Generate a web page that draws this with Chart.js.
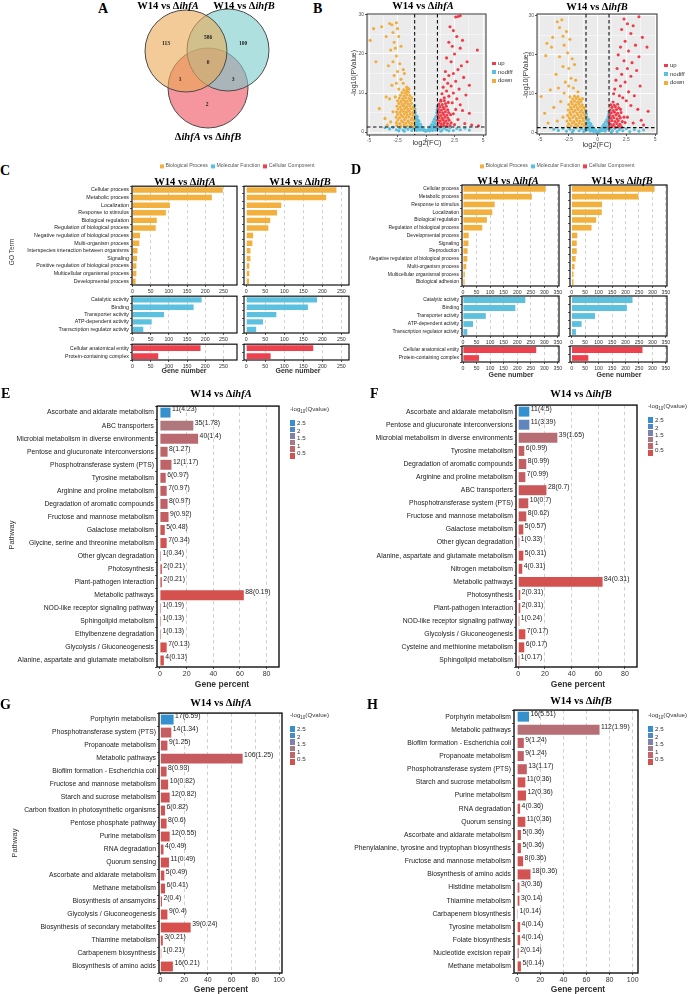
<!DOCTYPE html>
<html>
<head>
<meta charset="utf-8">
<script src="https://cdn.jsdelivr.net/npm/chart.js@4.4.1/dist/chart.umd.min.js"></script>
<style>
body { margin: 0; background: #fff; }
#fig { position: relative; width: 693px; height: 994px; overflow: hidden; font-family: 'Liberation Sans', Arial, sans-serif; color: #222; }
#fig canvas { position: absolute; }
.t { position: absolute; white-space: nowrap; line-height: 1; }
.letter { font: bold 14px 'Liberation Serif', serif; color: #000; }
.ttl { font: bold 10.5px 'Liberation Serif', serif; color: #000; }
.sq { display: inline-block; vertical-align: middle; }
</style>
</head>
<body>
<div id="fig"></div>
<script>
// ---------- DATA ----------

// Venn (A only, A&B, B only, all three, A&C, B&C, C only)
const vennCounts = [113, 586, 100, 0, 1, 3, 2];

// Volcano: W14 vs ihfA  [log2FC, -log10 P]
const volA_up = [[2.6,29.5],[3.0,29.8],[2.8,29.6],[2.1,27],[2.4,26],[2.7,24.5],[3.2,23.5],[2.0,23],[4.5,21],[2.3,22],[3.0,21.5],[2.5,20],[1.8,19],[2.2,18],[3.6,18],[3.1,17],[2.8,16],[1.7,15.5],[2.4,15],[2.0,14.5],[3.3,14],[1.6,13.5],[2.6,13],[1.9,12.5],[3.8,12],[2.2,11.8],[1.5,11.5],[2.9,11],[1.8,10.5],[2.4,10],[3.5,9.5],[1.4,9.8],[2.0,9.2],[1.6,8.8],[2.7,8.5],[1.3,8.2],[2.3,7.5],[3.0,7],[2.6,5.8],[2.4,4.7],[2.8,3.2],[2.5,1.9],[3.4,2.2],[4.0,1.8],[4.6,1.6],[3.8,4.8],[3.2,5.5],
  [1.05,1.6],[1.3,1.45],[1.55,1.7],[1.8,1.5],[2.1,1.65],[1.1,2.3],[1.35,2.1],[1.6,2.4],[1.88,2.2],[2.2,2.35],[1.02,3.0],[1.25,2.85],[1.5,3.1],[1.75,2.9],[2.02,3.05],[1.12,3.7],[1.4,3.55],[1.65,3.8],[1.92,3.6],[1.05,4.4],[1.3,4.25],[1.55,4.5],[1.82,4.3],[2.15,4.45],[1.18,5.1],[1.45,4.95],[1.7,5.2],[1.98,5.0],[1.08,5.8],[1.35,5.65],[1.6,5.9],[1.9,5.7],[1.22,6.5],[1.5,6.35],[1.78,6.6],[1.12,7.2],[1.42,7.05],[1.7,7.3],[1.3,7.9],[1.6,8.1],[1.95,7.6]];
const volA_down = [[-4.9,23.5],[-4.6,26.5],[-3.9,27],[-3.5,24.5],[-3.2,27.8],[-3.0,27.5],[-2.9,25.5],[-2.6,28],[-2.5,26.5],[-2.8,23],[-2.4,24.5],[-3.1,21],[-2.7,21.5],[-2.2,22],[-2.6,19.5],[-2.9,18],[-3.3,17],[-4.4,18],[-2.3,17.5],[-2.0,16],[-2.5,15.5],[-2.8,14.5],[-1.9,15],[-2.2,13.5],[-3.5,9],[-4.1,6],[-3.0,12],[-2.6,12.5],[-2.0,12.5],[-1.7,11.5],[-2.4,11],[-1.5,11],[-3.4,1.8],[-3.1,2.6],[-3.6,3.5],[-2.9,5.2],[-3.2,8.5],[-2.7,9.0],
  [-2.55,1.7],[-2.22,1.5],[-1.93,1.8],[-1.64,1.55],[-1.36,1.75],[-1.08,1.5],[-2.6,2.4],[-2.3,2.2],[-2.02,2.5],[-1.75,2.3],[-1.47,2.45],[-1.2,2.25],[-2.48,3.1],[-2.15,2.95],[-1.88,3.2],[-1.58,2.9],[-1.3,3.15],[-1.04,3.0],[-2.62,3.8],[-2.33,3.65],[-2.05,3.9],[-1.77,3.7],[-1.5,3.85],[-1.22,3.6],[-2.5,4.5],[-2.2,4.35],[-1.92,4.6],[-1.65,4.4],[-1.38,4.55],[-1.1,4.3],[-2.58,5.2],[-2.28,5.05],[-2.0,5.3],[-1.72,5.1],[-1.45,5.25],[-1.17,5.0],[-2.45,5.9],[-2.17,5.75],[-1.87,6.0],[-1.6,5.8],[-1.32,5.95],[-1.05,5.7],[-2.55,6.6],[-2.25,6.45],[-1.97,6.7],[-1.7,6.5],[-1.42,6.65],[-1.15,6.4],[-2.4,7.3],[-2.1,7.15],[-1.83,7.4],[-1.55,7.2],[-1.28,7.35],[-2.5,8.0],[-2.2,7.85],[-1.92,8.1],[-1.65,7.9],[-1.37,8.05],[-2.35,8.7],[-2.05,8.55],[-1.78,8.8],[-1.5,8.6],[-1.25,8.75],[-2.25,9.4],[-1.95,9.3],[-1.68,9.5],[-1.42,9.35],[-2.1,10.1],[-1.82,10.0],[-1.56,10.2],[-1.95,10.8],[-1.7,10.6],[-1.6,11.2]];
const volA_nodiff = [[-1.0,6.8],[-0.97,5.9],[-0.95,5.0],[-0.92,4.2],[-0.9,3.4],[-0.88,2.6],[-0.85,1.8],[-0.83,1.0],[-0.8,0.4],[-0.78,4.0],[-0.75,3.2],[-0.72,2.4],[-0.7,1.5],[-0.68,0.7],[-0.62,2.8],[-0.6,2.0],[-0.57,1.2],[-0.55,0.5],[-0.48,2.0],[-0.45,1.3],[-0.42,0.6],[-0.35,1.3],[-0.3,0.7],[-0.25,0.9],[-0.2,0.4],[-0.12,0.5],[-0.05,0.2],[0.05,0.3],[0.12,0.4],[0.2,0.6],[0.28,0.9],[0.33,0.3],[0.4,1.4],[0.45,0.7],[0.5,1.9],[0.55,1.1],[0.58,0.4],[0.62,2.6],[0.65,1.7],[0.7,0.9],[0.74,3.3],[0.77,2.3],[0.8,1.3],[0.82,0.5],[0.86,4.0],[0.88,3.0],[0.9,2.0],[0.93,5.0],[0.95,1.0],[0.97,5.8],[0.99,4.3],[1.0,6.6],
  [-3.6,1.1],[-3.2,0.8],[-2.9,1.2],[-2.6,0.6],[-2.3,1.0],[-2.0,0.5],[-1.8,1.1],[-1.6,0.7],[-1.4,1.2],[-1.25,0.4],[-1.15,0.9],[-2.4,0.3],[-1.9,0.2],[1.1,0.8],[1.25,1.2],[1.4,0.5],[1.6,1.0],[1.8,0.6],[2.1,1.1],[2.4,0.4],[2.7,0.9],[3.0,0.6],[3.4,1.0],[3.8,0.5],[1.3,0.2],[2.0,0.3],[-1.05,1.2],[1.05,1.2]];

// Volcano: W14 vs ihfB
const volB_up = [[2.3,29.2],[3.6,29.8],[2.6,28],[3.1,27.5],[2.9,25.5],[2.1,26.5],[3.9,24.5],[2.4,23.5],[3.3,22.5],[2.0,22],[4.3,22],[2.7,21],[3.6,19.5],[1.8,20],[2.3,18.5],[3.0,18],[2.6,16.5],[3.4,16],[1.7,16.5],[2.1,15],[2.9,14.5],[1.6,13.5],[2.4,13],[3.7,12],[2.0,12],[1.5,11.2],[2.7,10.5],[3.2,9.5],[1.4,10],[2.2,9],[4.4,5.5],[3.8,3.2],[2.9,7],[3.5,6],[2.6,4],[4.0,2.0],[3.1,2.5],[2.5,8.2],[1.9,9.5],
  [1.02,1.5],[1.28,1.7],[1.55,1.45],[1.82,1.65],[2.1,1.5],[1.12,2.25],[1.4,2.1],[1.68,2.35],[1.95,2.15],[1.0,2.95],[1.25,3.1],[1.52,2.9],[1.8,3.05],[2.15,2.85],[1.15,3.7],[1.42,3.85],[1.7,3.6],[1.98,3.8],[1.05,4.45],[1.32,4.3],[1.6,4.55],[1.88,4.35],[1.2,5.1],[1.48,5.25],[1.75,5.0],[2.05,5.2],[1.1,5.85],[1.38,5.7],[1.65,5.95],[1.25,6.5],[1.55,6.65],[1.85,6.4],[1.15,7.2],[1.45,7.05],[1.75,7.3],[1.35,7.9],[2.0,6.0],[2.3,4.0],[2.4,2.6]];
const volB_down = [[-4.9,9.3],[-4.5,19.8],[-4.4,23],[-4.0,22],[-3.9,24.5],[-3.5,28.5],[-3.3,27],[-3.1,29],[-3.0,24.8],[-2.7,26],[-2.9,22.5],[-2.4,24],[-2.6,20.5],[-3.3,19.5],[-2.2,19],[-3.0,17],[-2.5,16.5],[-2.0,17.5],[-3.6,15],[-2.3,14],[-2.8,13],[-1.9,13.5],[-4.1,11],[-3.4,11.5],[-2.5,12],[-2.1,11.5],[-1.7,10.5],[-4.6,5],[-3.8,6.5],[-3.2,8],[-3.0,4],[-4.3,2.5],[-2.9,10.2],[-3.5,3.0],
  [-2.6,1.6],[-2.3,1.8],[-2.0,1.5],[-1.72,1.75],[-1.45,1.55],[-1.15,1.7],[-2.5,2.3],[-2.18,2.5],[-1.9,2.2],[-1.6,2.45],[-1.32,2.25],[-1.05,2.4],[-2.65,3.0],[-2.35,3.2],[-2.05,2.9],[-1.78,3.15],[-1.5,2.95],[-1.22,3.1],[-2.45,3.75],[-2.15,3.9],[-1.85,3.65],[-1.58,3.85],[-1.3,3.7],[-1.03,3.8],[-2.6,4.45],[-2.3,4.6],[-2.0,4.35],[-1.7,4.55],[-1.42,4.4],[-1.12,4.5],[-2.4,5.15],[-2.1,5.3],[-1.8,5.05],[-1.52,5.25],[-1.25,5.1],[-2.55,5.85],[-2.25,6.0],[-1.95,5.75],[-1.67,5.95],[-1.38,5.8],[-1.08,5.9],[-2.35,6.55],[-2.05,6.7],[-1.77,6.45],[-1.48,6.65],[-1.2,6.5],[-2.5,7.25],[-2.2,7.4],[-1.9,7.15],[-1.62,7.35],[-1.33,7.2],[-2.3,7.95],[-2.0,8.1],[-1.72,7.85],[-1.45,8.05],[-2.15,8.65],[-1.85,8.8],[-1.57,8.6],[-1.3,8.75],[-2.0,9.4],[-1.7,9.3],[-2.4,9.2]];
const volB_nodiff = [[-1.0,5.6],[-0.97,4.8],[-0.94,4.0],[-0.91,3.2],[-0.88,2.4],[-0.85,1.6],[-0.82,0.8],[-0.78,3.4],[-0.74,2.6],[-0.7,1.8],[-0.66,1.0],[-0.62,0.4],[-0.58,2.3],[-0.54,1.5],[-0.5,0.7],[-0.45,1.6],[-0.4,0.9],[-0.35,0.3],[-0.3,1.0],[-0.24,0.5],[-0.18,0.7],[-0.1,0.3],[-0.03,0.1],[0.04,0.2],[0.1,0.5],[0.17,0.3],[0.23,0.8],[0.3,0.5],[0.36,1.2],[0.42,0.6],[0.47,1.7],[0.52,0.9],[0.57,2.2],[0.62,1.3],[0.66,0.4],[0.7,2.8],[0.74,1.8],[0.78,0.9],[0.82,3.4],[0.85,2.5],[0.88,1.4],[0.91,4.1],[0.94,3.1],[0.97,4.8],[0.99,2.0],[1.0,5.5],
  [-3.8,0.9],[-3.4,0.6],[-3.0,1.1],[-2.7,0.4],[-2.4,0.9],[-2.1,0.6],[-1.85,1.2],[-1.6,0.5],[-1.4,1.0],[-1.2,0.3],[-1.1,0.8],[-2.2,0.2],[1.1,1.0],[1.3,0.5],[1.5,1.1],[1.7,0.3],[1.9,0.8],[2.2,0.5],[2.5,1.0],[2.8,0.3],[3.2,0.8],[3.6,0.4],[4.0,0.7],[1.2,0.1],[2.0,1.2],[-1.05,1.2],[1.05,1.2]];

// GO enrichment (gene numbers)
const bpTermsC = ['Cellular process','Metabolic process','Localization','Response to stimulus','Biological regulation','Regulation of biological process','Negative regulation of biological process','Multi-organism process','Interspecies interaction between organisms','Signaling','Positive regulation of biological process','Multicellular organismal process','Developmental process'];
const bpC_A = [248, 218, 103, 92, 67, 64, 21, 19, 14, 13, 11, 11, 9];
const bpC_B = [237, 210, 92, 81, 63, 58, 18, 16, 11, 11, 8, 8, 7];
const mfTerms = ['Catalytic activity','Binding','Transporter activity','ATP-dependent activity','Transcription regulator activity'];
const mfC_A = [190, 168, 87, 53, 30];
const mfC_B = [186, 162, 79, 44, 26];
const ccTerms = ['Cellular anatomical entity','Protein-containing complex'];
const ccC_A = [187, 71];
const ccC_B = [176, 64];

const bpTermsD = ['Cellular process','Metabolic process','Response to stimulus','Localization','Biological regulation','Regulation of biological process','Developmental process','Signaling','Reproduction','Negative regulation of biological process','Multi-organism process','Multicellular organismal process','Biological adhesion'];
const bpD_A = [305, 254, 117, 108, 88, 71, 21, 20, 17, 16, 12, 7, 6];
const bpD_B = [308, 248, 113, 112, 91, 74, 21, 19, 19, 15, 11, 7, 7];
const mfD_A = [230, 193, 84, 37, 16];
const mfD_B = [226, 205, 87, 37, 16];
const ccD_A = [270, 59];
const ccD_B = [263, 62];

// KEGG pathways: count, -log10(Q), gene percent
const pathE = ['Ascorbate and aldarate metabolism','ABC transporters','Microbial metabolism in diverse environments','Pentose and glucuronate interconversions','Phosphotransferase system (PTS)','Tyrosine metabolism','Arginine and proline metabolism','Degradation of aromatic compounds','Fructose and mannose metabolism','Galactose metabolism','Glycine, serine and threonine metabolism','Other glycan degradation','Photosynthesis','Plant-pathogen interaction','Metabolic pathways','NOD-like receptor signaling pathway','Sphingolipid metabolism','Ethylbenzene degradation','Glycolysis / Gluconeogenesis','Alanine, aspartate and glutamate metabolism'];
const countE = [11, 35, 40, 8, 12, 6, 7, 8, 9, 5, 7, 1, 2, 2, 88, 1, 1, 1, 7, 4];
const qE = [4.23, 1.78, 1.4, 1.27, 1.17, 0.97, 0.97, 0.97, 0.92, 0.48, 0.34, 0.34, 0.21, 0.21, 0.19, 0.19, 0.13, 0.13, 0.13, 0.13];
const pctE = [7.9, 25.0, 28.6, 5.7, 8.6, 4.3, 5.0, 5.7, 6.4, 3.6, 5.0, 0.7, 1.4, 1.4, 62.9, 0.7, 0.7, 0.7, 5.0, 2.9];

const pathF = ['Ascorbate and aldarate metabolism','Pentose and glucuronate interconversions','Microbial metabolism in diverse environments','Tyrosine metabolism','Degradation of aromatic compounds','Arginine and proline metabolism','ABC transporters','Phosphotransferase system (PTS)','Fructose and mannose metabolism','Galactose metabolism','Other glycan degradation','Alanine, aspartate and glutamate metabolism','Nitrogen metabolism','Metabolic pathways','Photosynthesis','Plant-pathogen interaction','NOD-like receptor signaling pathway','Glycolysis / Gluconeogenesis','Cysteine and methionine metabolism','Sphingolipid metabolism'];
const countF = [11, 11, 39, 6, 8, 7, 28, 10, 8, 5, 1, 5, 4, 84, 2, 2, 1, 7, 6, 1];
const qF = [4.5, 3.39, 1.65, 0.99, 0.99, 0.99, 0.7, 0.7, 0.62, 0.57, 0.33, 0.31, 0.31, 0.31, 0.31, 0.31, 0.24, 0.17, 0.17, 0.17];
const pctF = [8.3, 8.3, 29.3, 4.5, 6.0, 5.3, 21.1, 7.5, 6.0, 3.8, 0.8, 3.8, 3.0, 63.2, 1.5, 1.5, 0.8, 5.3, 4.5, 0.8];

const pathG = ['Porphyrin metabolism','Phosphotransferase system (PTS)','Propanoate metabolism','Metabolic pathways','Biofilm formation - Escherichia coli','Fructose and mannose metabolism','Starch and sucrose metabolism','Carbon fixation in photosynthetic organisms','Pentose phosphate pathway','Purine metabolism','RNA degradation','Quorum sensing','Ascorbate and aldarate metabolism','Methane metabolism','Biosynthesis of ansamycins','Glycolysis / Gluconeogenesis','Biosynthesis of secondary metabolites','Thiamine metabolism','Carbapenem biosynthesis','Biosynthesis of amino acids'];
const countG = [17, 14, 9, 106, 8, 10, 12, 6, 8, 12, 4, 11, 5, 6, 2, 9, 39, 3, 1, 16];
const qG = [6.59, 1.34, 1.25, 1.25, 0.93, 0.82, 0.82, 0.82, 0.6, 0.55, 0.49, 0.49, 0.49, 0.41, 0.4, 0.4, 0.24, 0.21, 0.21, 0.21];
const pctG = [11.1, 9.2, 5.9, 69.3, 5.2, 6.5, 7.8, 3.9, 5.2, 7.8, 2.6, 7.2, 3.3, 3.9, 1.3, 5.9, 25.5, 2.0, 0.7, 10.5];

const pathH = ['Porphyrin metabolism','Metabolic pathways','Biofilm formation - Escherichia coli','Propanoate metabolism','Phosphotransferase system (PTS)','Starch and sucrose metabolism','Purine metabolism','RNA degradation','Quorum sensing','Ascorbate and aldarate metabolism','Phenylalanine, tyrosine and tryptophan biosynthesis','Fructose and mannose metabolism','Biosynthesis of amino acids','Histidine metabolism','Thiamine metabolism','Carbapenem biosynthesis','Tyrosine metabolism','Folate biosynthesis','Nucleotide excision repair','Methane metabolism'];
const countH = [16, 112, 9, 9, 13, 11, 12, 4, 11, 5, 5, 8, 18, 3, 3, 1, 4, 4, 2, 5];
const qH = [5.51, 1.99, 1.24, 1.24, 1.17, 0.36, 0.36, 0.36, 0.36, 0.36, 0.36, 0.36, 0.36, 0.36, 0.14, 0.14, 0.14, 0.14, 0.14, 0.14];
const pctH = [10.2, 71.3, 5.7, 5.7, 8.3, 7.0, 7.6, 2.5, 7.0, 3.2, 3.2, 5.1, 11.5, 1.9, 1.9, 0.6, 2.5, 2.5, 1.3, 3.2];

const qLegendTicks = ['2.5', '2', '1.5', '1', '0.5'];

// thresholds on the volcano plots
const fcCut = 1;
const pCut = 1.3;

// ---------- STYLE ----------
const SANS = "'Liberation Sans', Arial, sans-serif";
Chart.defaults.font.family = SANS;
Chart.defaults.color = '#333';
Chart.defaults.animation = false;

const goColors = { bp: '#F2B13F', mf: '#5BC1DF', cc: '#EF404E' };
const volColors = { up: '#F03C4A', nodiff: '#5BC0DE', down: '#F0AD3C' };
const qStops = [[0, [214, 80, 76]], [0.15, [199, 90, 94]], [0.3, [186, 104, 110]], [0.42, [174, 122, 126]], [0.6, [140, 128, 158]], [0.75, [94, 134, 190]], [1, [52, 145, 205]]];
const qSwatches = ['#3A8FCB', '#4E89C4', '#7D82AA', '#A57A86', '#BE666C', '#D35250'];

const fig = document.getElementById('fig');

function qColor(q, all) {
  const lo = Math.min(...all), hi = Math.max(...all);
  const t = (q - lo) / (hi - lo);
  for (let i = 1; i < qStops.length; i++) {
    if (t <= qStops[i][0]) {
      const [t0, c0] = qStops[i - 1], [t1, c1] = qStops[i];
      const f = (t - t0) / (t1 - t0);
      return `rgb(${c0.map((v, k) => Math.round(v + (c1[k] - v) * f)).join(',')})`;
    }
  }
  return 'rgb(52,145,205)';
}

function addCanvas(x, y, w, h) {
  const c = document.createElement('canvas');
  c.width = w; c.height = h;
  c.style.left = x + 'px'; c.style.top = y + 'px';
  fig.appendChild(c);
  return c;
}

function text(html, x, y, css, center) {
  const d = document.createElement('div');
  d.className = 't';
  d.innerHTML = html;
  d.style.cssText += `left:${x}px;top:${y}px;` + (css || '');
  if (center) d.style.transform = 'translate(-50%,-50%)' + (center === 'v' ? ' rotate(-90deg)' : '');
  fig.appendChild(d);
  return d;
}

const isMul = (v, m) => Math.abs(v / m - Math.round(v / m)) < 1e-6;

// plot frame + optional panel background
const framePlugin = {
  id: 'frame',
  beforeDraw(chart, args, opts) {
    if (!opts.bg) return;
    const a = chart.chartArea, ctx = chart.ctx;
    ctx.save(); ctx.fillStyle = opts.bg; ctx.fillRect(a.left, a.top, a.width, a.height); ctx.restore();
  },
  afterDatasetsDraw(chart, args, opts) {
    const a = chart.chartArea, ctx = chart.ctx;
    ctx.save();
    ctx.strokeStyle = opts.color || '#111';
    ctx.lineWidth = opts.width || 1.3;
    ctx.strokeRect(a.left, a.top, a.width, a.height);
    ctx.restore();
  }
};

// "count(q)" labels next to the bars
const valuePlugin = {
  id: 'valueLabels',
  afterDatasetsDraw(chart, args, opts) {
    if (!opts.texts) return;
    const ctx = chart.ctx;
    ctx.save();
    ctx.font = `${opts.size}px ${SANS}`;
    ctx.fillStyle = '#222';
    ctx.textBaseline = 'middle';
    chart.getDatasetMeta(0).data.forEach((bar, i) => ctx.fillText(opts.texts[i], bar.x + 1.5, bar.y - 3));
    ctx.restore();
  }
};

// dashed cut-off lines on volcano plots
const cutPlugin = {
  id: 'cuts',
  afterDatasetsDraw(chart) {
    const { ctx, chartArea: a, scales: { x, y } } = chart;
    ctx.save();
    ctx.strokeStyle = '#111'; ctx.lineWidth = 1.1; ctx.setLineDash([3.5, 2.5]);
    ctx.beginPath();
    [-fcCut, fcCut].forEach(v => { const px = x.getPixelForValue(v); ctx.moveTo(px, a.top); ctx.lineTo(px, a.bottom); });
    const py = y.getPixelForValue(pCut);
    ctx.moveTo(a.left, py); ctx.lineTo(a.right, py);
    ctx.stroke();
    ctx.restore();
  }
};

// Venn numbers
const vennPlugin = {
  id: 'vennText',
  afterDatasetsDraw(chart, args, opts) {
    const { ctx, scales: { x, y } } = chart;
    ctx.save();
    ctx.font = `bold 5.5px 'Liberation Serif', serif`;
    ctx.fillStyle = '#222'; ctx.textAlign = 'center'; ctx.textBaseline = 'middle';
    opts.pos.forEach((p, i) => ctx.fillText(String(vennCounts[i]), x.getPixelForValue(p[0]), y.getPixelForValue(p[1])));
    ctx.restore();
  }
};

// ---------- CHART BUILDERS ----------

function hbar(o) {
  const padT = 4, padR = o.padR || 8;
  const [x0, y0, x1, y1] = o.plot;
  const c = addCanvas(x0 - o.labelW, y0 - padT, x1 - x0 + o.labelW + padR, y1 - y0 + padT + o.axisH);
  return new Chart(c, {
    type: 'bar',
    data: { labels: o.labels, datasets: [{ data: o.values, backgroundColor: o.colors, barPercentage: o.barPct, categoryPercentage: 1 }] },
    options: {
      indexAxis: 'y', responsive: false, devicePixelRatio: 1,
      layout: { autoPadding: false, padding: { top: padT, right: padR, left: 0, bottom: 0 } },
      plugins: {
        legend: { display: false }, tooltip: { enabled: false },
        frame: { color: '#111', width: o.frameW || 1.3 },
        valueLabels: { texts: o.texts, size: o.valueSize || o.labelSize }
      },
      scales: {
        x: {
          type: 'linear', min: o.xmin, max: o.xmax,
          afterFit: s => { s.height = o.axisH; },
          ticks: { stepSize: o.step, includeBounds: false, autoSkip: false, maxRotation: 0, font: { size: o.tickSize }, color: '#333', padding: 1 },
          grid: { color: ctx => (ctx.tick && ctx.tick.value === 0) ? 'rgba(0,0,0,0)' : '#c4c4c4', lineWidth: 0.8, tickLength: 2, tickColor: '#333', tickWidth: 0.8 },
          border: { display: false, dash: o.dash || [3.5, 3] }
        },
        y: {
          type: 'category',
          afterFit: s => { s.width = o.labelW; },
          ticks: { autoSkip: false, font: { size: o.labelSize }, color: '#1a1a1a', padding: 1,
                   callback: o.showLabels ? function (v) { return this.getLabelForValue(v); } : () => '' },
          grid: { drawOnChartArea: false, tickLength: 2, tickColor: '#333', tickWidth: 0.8 },
          border: { display: false }
        }
      }
    },
    plugins: [framePlugin, valuePlugin]
  });
}

function volcano(o) {
  const [x0, y0, x1, y1] = o.plot;
  const L = 11, B = 8, padT = 3, padR = 3;
  const c = addCanvas(x0 - L, y0 - padT, x1 - x0 + L + padR, y1 - y0 + padT + B);
  const xy = arr => arr.map(p => ({ x: p[0], y: p[1] }));
  return new Chart(c, {
    type: 'scatter',
    data: { datasets: [
      { label: 'up', data: xy(o.up), backgroundColor: volColors.up },
      { label: 'down', data: xy(o.down), backgroundColor: volColors.down },
      { label: 'nodiff', data: xy(o.nodiff), backgroundColor: volColors.nodiff }
    ] },
    options: {
      responsive: false, devicePixelRatio: 1,
      layout: { autoPadding: false, padding: { top: padT, right: padR, left: 0, bottom: 0 } },
      elements: { point: { radius: 1.55, borderWidth: 0, hoverRadius: 1.55 } },
      plugins: { legend: { display: false }, tooltip: { enabled: false }, frame: { color: '#333', width: 1, bg: '#EBEBEB' } },
      scales: {
        x: {
          type: 'linear', min: o.xr[0], max: o.xr[1],
          afterFit: s => { s.height = B; },
          ticks: { stepSize: 1.25, includeBounds: false, autoSkip: false, maxRotation: 0, font: { size: 5 }, color: '#555', padding: 0.5,
                   callback: v => isMul(v, 2.5) ? String(v) : '' },
          grid: { color: '#fff', lineWidth: ctx => isMul(ctx.tick.value, 2.5) ? 0.9 : 0.45, tickLength: 2,
                  tickColor: ctx => isMul(ctx.tick.value, 2.5) ? '#444' : 'rgba(0,0,0,0)' },
          border: { display: false }
        },
        y: {
          type: 'linear', min: o.yr[0], max: o.yr[1],
          afterFit: s => { s.width = L; },
          ticks: { stepSize: 5, includeBounds: false, autoSkip: false, font: { size: 5 }, color: '#555', padding: 1,
                   callback: v => isMul(v, 10) ? String(v) : '' },
          grid: { color: '#fff', lineWidth: ctx => isMul(ctx.tick.value, 10) ? 0.9 : 0.45, tickLength: 2,
                  tickColor: ctx => isMul(ctx.tick.value, 10) ? '#444' : 'rgba(0,0,0,0)' },
          border: { display: false }
        }
      }
    },
    plugins: [framePlugin, cutPlugin]
  });
}

// ---------- PANEL A: Venn ----------
const vennCircles = [
  { x: 186, y: 51, r: 41, color: 'rgba(233,168,83,0.6)' },
  { x: 228, y: 50, r: 41, color: 'rgba(120,203,203,0.6)' },
  { x: 208, y: 88, r: 40, color: 'rgba(238,73,87,0.58)' }
];
const vennLabelPos = [[166, 44], [208, 38], [243, 44], [208, 63], [180, 80], [233, 80], [207, 105]];
new Chart(addCanvas(140, 5, 135, 130), {
  type: 'bubble',
  data: { datasets: vennCircles.map(c => ({ data: [{ x: c.x, y: c.y, r: c.r }], backgroundColor: c.color, borderColor: '#4a4a4a', borderWidth: 1, clip: false })) },
  options: {
    responsive: false, devicePixelRatio: 1,
    layout: { autoPadding: false, padding: 0 },
    plugins: { legend: { display: false }, tooltip: { enabled: false }, vennText: { pos: vennLabelPos } },
    scales: { x: { display: false, min: 140, max: 275 }, y: { display: false, min: 5, max: 135, reverse: true } }
  },
  plugins: [vennPlugin]
});

// ---------- PANEL B: volcano ----------
volcano({ plot: [367, 13, 486, 135], xr: [-5.18, 5.26], yr: [-0.76, 30.25], up: volA_up, down: volA_down, nodiff: volA_nodiff });
volcano({ plot: [537, 13, 657, 134], xr: [-5.26, 5.17], yr: [-0.33, 30.5], up: volB_up, down: volB_down, nodiff: volB_nodiff });

// ---------- PANELS C, D: GO ----------
function goColumn(col) {
  const base = { axisH: 9, tickSize: col.tickSize, labelSize: col.labelSize, barPct: 0.72, step: 50, xmin: col.xr[0], xmax: col.xr[1],
                 labelW: col.labelW, showLabels: col.showLabels, frameW: 1.2, dash: [3, 3] };
  hbar({ ...base, plot: [col.x0, col.ys[0][0], col.x1, col.ys[0][1]], labels: col.bpTerms, values: col.bp, colors: goColors.bp });
  hbar({ ...base, plot: [col.x0, col.ys[1][0], col.x1, col.ys[1][1]], labels: mfTerms, values: col.mf, colors: goColors.mf });
  hbar({ ...base, plot: [col.x0, col.ys[2][0], col.x1, col.ys[2][1]], labels: ccTerms, values: col.cc, colors: goColors.cc });
}
const ysC = [[186, 285], [296, 333], [344, 360]];
const ysD = [[185, 286], [296, 336], [346, 362]];
goColumn({ x0: 132, x1: 237, ys: ysC, xr: [-1, 287], labelW: 128, showLabels: true, labelSize: 5.3, tickSize: 5.3, bpTerms: bpTermsC, bp: bpC_A, mf: mfC_A, cc: ccC_A });
goColumn({ x0: 244, x1: 349, ys: ysC, xr: [-6, 270], labelW: 4, showLabels: false, labelSize: 5.3, tickSize: 5.3, bpTerms: bpTermsC, bp: bpC_B, mf: mfC_B, cc: ccC_B });
goColumn({ x0: 462, x1: 559, ys: ysD, xr: [-3.7, 354], labelW: 104, showLabels: true, labelSize: 5.0, tickSize: 5.2, bpTerms: bpTermsD, bp: bpD_A, mf: mfD_A, cc: ccD_A });
goColumn({ x0: 570, x1: 667, ys: ysD, xr: [-6, 354], labelW: 4, showLabels: false, labelSize: 5.0, tickSize: 5.2, bpTerms: bpTermsD, bp: bpD_B, mf: mfD_B, cc: ccD_B });

// ---------- PANELS E-H: KEGG ----------
function kegg(o) {
  hbar({
    plot: o.plot, labelW: o.labelW, axisH: 12, tickSize: 7, labelSize: 6.8, valueSize: 6.8, barPct: 0.76, step: 20,
    xmin: o.xr[0], xmax: o.xr[1], showLabels: true, labels: o.names, values: o.pct,
    colors: o.q.map(q => qColor(q, o.q)), texts: o.count.map((n, i) => `${n}(${o.q[i]})`), frameW: 1.4
  });
}
kegg({ plot: [157, 405, 279, 667], labelW: 152, xr: [-2.25, 89.3], names: pathE, count: countE, q: qE, pct: pctE });
kegg({ plot: [516, 404, 637, 667], labelW: 151, xr: [-1.7, 89], names: pathF, count: countF, q: qF, pct: pctF });
kegg({ plot: [159, 712, 282, 973], labelW: 154, xr: [-1.2, 102.5], names: pathG, count: countG, q: qG, pct: pctG });
kegg({ plot: [514, 709, 638, 973], labelW: 169, xr: [-2.8, 104.6], names: pathH, count: countH, q: qH, pct: pctH });

// ---------- TEXT ----------
const vsA = 'W14 vs Δ<i>ihfA</i>', vsB = 'W14 vs Δ<i>ihfB</i>';
[['A', 98, 1], ['B', 313, 1], ['C', 0, 163], ['D', 351, 162], ['E', 1, 386], ['F', 370, 386], ['G', 0, 697], ['H', 367, 697]]
  .forEach(([l, x, y]) => text(l, x, y).classList.add('letter'));

[[vsA, 168, 5], [vsB, 244, 5], ['Δ<i>ihfA</i> vs Δ<i>ihfB</i>', 208, 136],
 [vsA, 423, 5], [vsB, 597, 6],
 [vsA, 185, 181], [vsB, 300, 181], [vsA, 508, 180], [vsB, 622, 180],
 [vsA, 221, 393], [vsB, 581, 393], [vsA, 221, 702], [vsB, 581, 700]]
  .forEach(([h, x, y]) => text(h, x, y, '', true).classList.add('ttl'));

// volcano axis titles + legends
text('log2(FC)', 427, 143, 'font-size:7.5px;color:#333;', true);
text('log2(FC)', 597, 145, 'font-size:7.5px;color:#333;', true);
text('-log10(PValue)', 353, 73, 'font-size:7px;color:#333;', 'v');
text('-log10(PValue)', 525, 75, 'font-size:7px;color:#333;', 'v');
function volLegend(x, y) {
  [['up', volColors.up], ['nodiff', volColors.nodiff], ['down', volColors.down]].forEach(([n, c], i) => {
    text(`<span class="sq" style="width:3.5px;height:3.5px;background:${c};margin-right:2.5px"></span>${n}`, x, y + i * 8.7, 'font-size:6px;color:#333;transform:translateY(-50%)');
  });
}
volLegend(492, 63);
volLegend(664, 65);

// GO legends / axis titles
function goLegend(x, y) {
  const items = [['Biological Process', goColors.bp], ['Molecular Function', goColors.mf], ['Cellular Component', goColors.cc]];
  text(items.map(([n, c]) => `<span class="sq" style="width:4px;height:4px;background:${c};margin-right:1.5px"></span>${n}`).join('<span style="display:inline-block;width:3px"></span>'),
       x, y, 'font-size:5.2px;color:#555;transform:translateY(-50%)');
}
goLegend(160, 166);
goLegend(480, 166);
text('GO Term', 12, 252, 'font-size:6.5px;color:#333;', 'v');
[[184, 370], [298, 370], [511, 374], [619, 374]].forEach(([x, y]) => text('Gene number', x, y, 'font-size:7px;font-weight:bold;color:#333;', true));

// KEGG legends / axis titles
function qLegend(x, y) {
  text('-log<sub style="font-size:4.5px">10</sub>(Qvalue)', x, y, 'font-size:6.2px;color:#333;');
  qSwatches.forEach((c, i) => {
    const d = document.createElement('div');
    d.style.cssText = `position:absolute;left:${x}px;top:${y + 14 + i * 6.6}px;width:5px;height:5.6px;background:${c}`;
    fig.appendChild(d);
  });
  qLegendTicks.forEach((t, i) => text(t, x + 7, y + 17 + i * 7.6, 'font-size:6.2px;color:#333;transform:translateY(-50%)'));
}
qLegend(290, 406);
qLegend(648, 403);
qLegend(290, 712);
qLegend(648, 712);
text('Pathway', 12, 535, 'font-size:7.5px;color:#333;', 'v');
text('Pathway', 15, 843, 'font-size:7.5px;color:#333;', 'v');
[[222, 684], [578, 684], [221, 989], [578, 989]].forEach(([x, y]) => text('Gene percent', x, y, 'font-size:8.5px;font-weight:bold;color:#333;', true));
</script>
</body>
</html>
